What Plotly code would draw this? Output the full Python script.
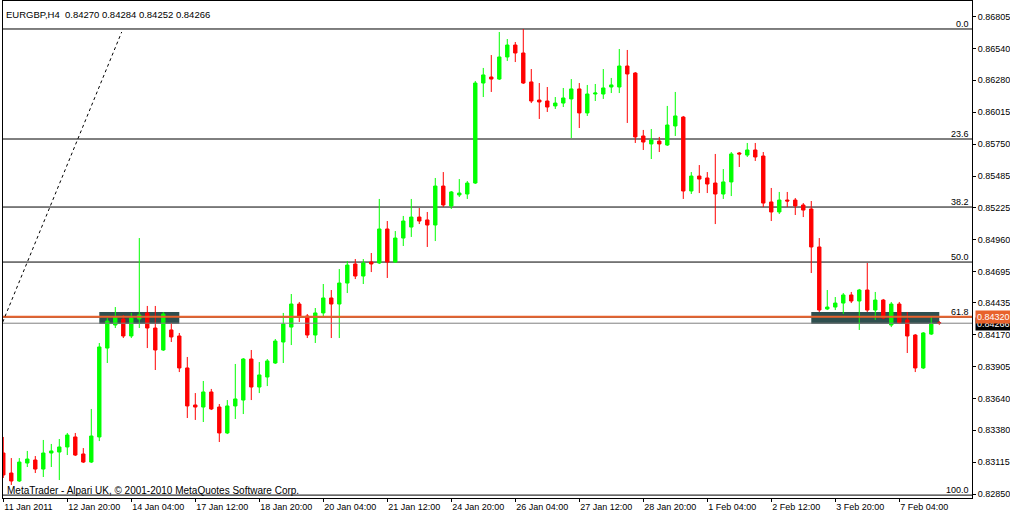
import plotly.graph_objects as go

# ---------------- data (EURGBP H4) ----------------
opens = [0.83190, 0.83024, 0.82958, 0.83107, 0.83132, 0.83057, 0.83190, 0.83198, 0.83240, 0.83323,
         0.83182, 0.83115, 0.83323, 0.84060, 0.84251, 0.84301, 0.84160, 0.84301, 0.84351, 0.84226,
         0.84044, 0.84210, 0.84160, 0.83895, 0.83588, 0.83571, 0.83696, 0.83571, 0.83356, 0.83580,
         0.83629, 0.83969, 0.83737, 0.83820, 0.83936, 0.84110, 0.84234, 0.84425, 0.84326, 0.84168,
         0.84351, 0.84475, 0.84425, 0.84599, 0.84757, 0.84657, 0.84773, 0.84765, 0.85047, 0.84773,
         0.84972, 0.85063, 0.85146, 0.85122, 0.85080, 0.85403, 0.85238, 0.85329, 0.85337, 0.85428,
         0.86257, 0.86307, 0.86290, 0.86473, 0.86572, 0.86506, 0.86266, 0.86116, 0.86108, 0.86067,
         0.86091, 0.86125, 0.86208, 0.86009, 0.86166, 0.86166, 0.86224, 0.86224, 0.86398, 0.86340,
         0.85818, 0.85752, 0.85776, 0.85743, 0.85901, 0.85975, 0.85362, 0.85486, 0.85470, 0.85428,
         0.85337, 0.85437, 0.85677, 0.85660, 0.85702, 0.85652, 0.85271, 0.85188, 0.85287, 0.85287,
         0.85246, 0.85213, 0.84898, 0.84384, 0.84400, 0.84433, 0.84500, 0.84450, 0.84541, 0.84375,
         0.84458, 0.84251, 0.84425, 0.84293, 0.84168, 0.83895, 0.84176, 0.84270]
highs = [0.83323, 0.83148, 0.83148, 0.83207, 0.83165, 0.83298, 0.83265, 0.83306, 0.83356, 0.83356,
         0.83231, 0.83555, 0.84102, 0.84309, 0.84400, 0.84334, 0.84351, 0.84972, 0.84409, 0.84409,
         0.84359, 0.84268, 0.84185, 0.83986, 0.83687, 0.83787, 0.83721, 0.83596, 0.83629, 0.83928,
         0.83977, 0.84044, 0.83944, 0.83969, 0.84135, 0.84351, 0.84508, 0.84442, 0.84342, 0.84392,
         0.84591, 0.84541, 0.84715, 0.84782, 0.84798, 0.84798, 0.84848, 0.85296, 0.85113, 0.85030,
         0.85155, 0.85296, 0.85221, 0.85188, 0.85470, 0.85519, 0.85362, 0.85461, 0.85445, 0.86274,
         0.86382, 0.86489, 0.86680, 0.86622, 0.86597, 0.86705, 0.86373, 0.86257, 0.86224, 0.86141,
         0.86216, 0.86290, 0.86257, 0.86241, 0.86249, 0.86373, 0.86299, 0.86539, 0.86531, 0.86348,
         0.85868, 0.85876, 0.85810, 0.86067, 0.86183, 0.85984, 0.85519, 0.85577, 0.85519, 0.85669,
         0.85544, 0.85685, 0.85685, 0.85760, 0.85760, 0.85685, 0.85387, 0.85354, 0.85354, 0.85304,
         0.85262, 0.85279, 0.84972, 0.84541, 0.84483, 0.84516, 0.84525, 0.84550, 0.84765, 0.84525,
         0.84467, 0.84442, 0.84442, 0.84359, 0.84176, 0.84193, 0.84317, 0.84284]
lows = [0.82983, 0.82925, 0.82950, 0.83074, 0.83024, 0.82991, 0.83074, 0.82966, 0.83173, 0.83165,
        0.83107, 0.83107, 0.83289, 0.83936, 0.84226, 0.84143, 0.84143, 0.84226, 0.84060, 0.83878,
        0.84036, 0.84110, 0.83861, 0.83480, 0.83464, 0.83447, 0.83546, 0.83281, 0.83347, 0.83472,
        0.83513, 0.83629, 0.83687, 0.83745, 0.83928, 0.83936, 0.84085, 0.84276, 0.84143, 0.84102,
        0.84317, 0.84143, 0.84143, 0.84516, 0.84632, 0.84591, 0.84690, 0.84757, 0.84641, 0.84765,
        0.84906, 0.84981, 0.85088, 0.84898, 0.84947, 0.85229, 0.85213, 0.85312, 0.85296, 0.85420,
        0.86141, 0.86183, 0.86282, 0.86440, 0.86431, 0.86249, 0.86091, 0.85959, 0.86017, 0.86042,
        0.86058, 0.85801, 0.85884, 0.85984, 0.86108, 0.86125, 0.86174, 0.86174, 0.85926, 0.85760,
        0.85702, 0.85627, 0.85685, 0.85735, 0.85818, 0.85296, 0.85337, 0.85345, 0.85345, 0.85088,
        0.85296, 0.85320, 0.85561, 0.85644, 0.85611, 0.85229, 0.85113, 0.85171, 0.85229, 0.85163,
        0.85146, 0.84682, 0.84359, 0.84375, 0.84375, 0.84342, 0.84433, 0.84210, 0.84359, 0.84293,
        0.84301, 0.84234, 0.84259, 0.84019, 0.83861, 0.83886, 0.84168, 0.84252]
closes = [0.83008, 0.82958, 0.83115, 0.83140, 0.83057, 0.83190, 0.83207, 0.83240, 0.83339, 0.83173,
          0.83115, 0.83331, 0.84069, 0.84284, 0.84317, 0.84160, 0.84309, 0.84334, 0.84226, 0.84044,
          0.84342, 0.84152, 0.83895, 0.83580, 0.83571, 0.83696, 0.83555, 0.83356, 0.83580, 0.83638,
          0.83969, 0.83737, 0.83837, 0.83953, 0.84118, 0.84259, 0.84425, 0.84317, 0.84168, 0.84351,
          0.84475, 0.84425, 0.84599, 0.84748, 0.84657, 0.84765, 0.84757, 0.85047, 0.84773, 0.84972,
          0.85113, 0.85146, 0.85113, 0.85080, 0.85403, 0.85246, 0.85354, 0.85345, 0.85428, 0.86257,
          0.86324, 0.86290, 0.86473, 0.86572, 0.86506, 0.86257, 0.86108, 0.86100, 0.86058, 0.86091,
          0.86133, 0.86208, 0.86009, 0.86166, 0.86174, 0.86216, 0.86241, 0.86398, 0.86332, 0.85810,
          0.85768, 0.85785, 0.85752, 0.85909, 0.85984, 0.85362, 0.85486, 0.85461, 0.85420, 0.85337,
          0.85437, 0.85669, 0.85669, 0.85702, 0.85644, 0.85262, 0.85188, 0.85287, 0.85279, 0.85238,
          0.85204, 0.84898, 0.84375, 0.84400, 0.84433, 0.84500, 0.84450, 0.84541, 0.84375, 0.84458,
          0.84309, 0.84425, 0.84268, 0.84160, 0.83895, 0.84185, 0.84259, 0.84266]
bar_index = list(range(len(opens)))

tick_bars = [0, 8, 16, 24, 32, 40, 48, 56, 64, 72, 80, 88, 96, 104, 112]
tick_labels = ["11 Jan 2011", "12 Jan 20:00", "14 Jan 04:00", "17 Jan 12:00", "18 Jan 20:00",
               "20 Jan 04:00", "21 Jan 12:00", "24 Jan 20:00", "26 Jan 04:00", "27 Jan 12:00",
               "28 Jan 20:00", "1 Feb 04:00", "2 Feb 12:00", "3 Feb 20:00", "7 Feb 04:00"]
price_ticks = [0.86805, 0.86540, 0.86280, 0.86015, 0.85750, 0.85485, 0.85225, 0.84960,
               0.84695, 0.84435, 0.84170, 0.83905, 0.83640, 0.83380, 0.83115, 0.82850]

fib_names = ["0.0", "23.6", "38.2", "50.0", "61.8", "100.0"]
fib_levels = [0.86705, 0.85793, 0.85229, 0.84773, 0.84317, 0.82841]

level_line = 0.84320      # orange horizontal line
bid_price = 0.84266       # current bid line
zone_low, zone_high = 0.84259, 0.84359
zone_bars = [(12, 22), (101, 117)]
trend_bars = [-0.07, 14.8]
trend_prices = [0.84276, 0.86680]

title_text = "EURGBP,H4\u00a0 0.84270 0.84284 0.84252 0.84266"
footer_text = "MetaTrader - Alpari UK, © 2001-2010 MetaQuotes Software Corp."

# ---------------- figure ----------------
FONT = "Liberation Sans, Arial, sans-serif"
fig = go.Figure()

fig.add_trace(go.Candlestick(
    x=bar_index, open=opens, high=highs, low=lows, close=closes,
    increasing=dict(line=dict(color="#00FF00", width=1), fillcolor="#00FF00"),
    decreasing=dict(line=dict(color="#FF0000", width=1), fillcolor="#FF0000"),
    whiskerwidth=0, showlegend=False, hoverinfo="skip",
))

shapes = []
for b0, b1 in zone_bars:
    shapes.append(dict(type="rect", xref="x", yref="y", x0=b0, x1=b1, y0=zone_low, y1=zone_high,
                       fillcolor="#2F4F4F", line=dict(width=0), layer="below"))
for lv in fib_levels:
    shapes.append(dict(type="line", xref="paper", yref="y", x0=0, x1=1, y0=lv, y1=lv,
                       line=dict(color="#000000", width=1), layer="below"))
shapes.append(dict(type="line", xref="paper", yref="y", x0=0, x1=1, y0=bid_price, y1=bid_price,
                   line=dict(color="#808080", width=1), layer="above"))
shapes.append(dict(type="line", xref="paper", yref="y", x0=0, x1=1, y0=level_line, y1=level_line,
                   line=dict(color="#E8622C", width=2), layer="above"))
shapes.append(dict(type="line", xref="x", yref="y", x0=trend_bars[0], x1=trend_bars[1],
                   y0=trend_prices[0], y1=trend_prices[1],
                   line=dict(color="#000000", width=1, dash="dot"), layer="above"))

annotations = []
for name, lv in zip(fib_names, fib_levels):
    annotations.append(dict(xref="paper", yref="y", x=1, y=lv, text=name, showarrow=False,
                            xanchor="right", yanchor="bottom", xshift=-1, yshift=-2,
                            font=dict(family=FONT, size=9, color="#000000")))
annotations.append(dict(xref="paper", yref="paper", x=0, y=1, text=title_text, showarrow=False,
                        xanchor="left", yanchor="top", xshift=1, yshift=-6,
                        font=dict(family=FONT, size=9.5, color="#000000")))
annotations.append(dict(xref="paper", yref="paper", x=0, y=0, text=footer_text, showarrow=False,
                        xanchor="left", yanchor="bottom", xshift=2, yshift=0,
                        font=dict(family=FONT, size=10, color="#000000")))
annotations.append(dict(xref="paper", yref="y", x=1, y=bid_price, text=f"{bid_price:.5f}",
                        showarrow=False, xanchor="left", yanchor="middle", xshift=3, yshift=-1,
                        bgcolor="#000000", borderpad=1,
                        font=dict(family=FONT, size=9, color="#FFFFFF")))
annotations.append(dict(xref="paper", yref="y", x=1, y=level_line, text=f"{level_line:.5f}",
                        showarrow=False, xanchor="left", yanchor="middle", xshift=3,
                        bgcolor="#E8622C", borderpad=1,
                        font=dict(family=FONT, size=9, color="#FFFFFF")))

fig.update_layout(
    width=1010, height=515,
    margin=dict(l=3, r=38, t=1, b=17),
    paper_bgcolor="#FFFFFF", plot_bgcolor="#FFFFFF",
    boxgap=0.4,
    showlegend=False,
    hovermode=False,
    shapes=shapes, annotations=annotations,
    font=dict(family=FONT, size=9, color="#000000"),
    xaxis=dict(range=[-0.0375, 121.09], rangeslider=dict(visible=False),
               tickmode="array", tickvals=tick_bars, ticktext=tick_labels,
               ticks="outside", ticklen=3, tickcolor="#000000", tickangle=0,
               ticklabelposition="outside right",
               showgrid=False, zeroline=False, showline=True, mirror=True,
               linecolor="#000000", linewidth=1,
               tickfont=dict(family=FONT, size=9, color="#000000")),
    yaxis=dict(range=[0.82817, 0.86937], side="right",
               tickmode="array", tickvals=price_ticks,
               ticktext=[f"{p:.5f}" for p in price_ticks],
               ticks="outside", ticklen=3, tickcolor="#000000",
               showgrid=False, zeroline=False, showline=True, mirror=True,
               linecolor="#000000", linewidth=1,
               tickfont=dict(family=FONT, size=9, color="#000000")),
)

fig.write_html("out.html", config={"displayModeBar": False},
               post_script="document.body.style.margin='0px';")
